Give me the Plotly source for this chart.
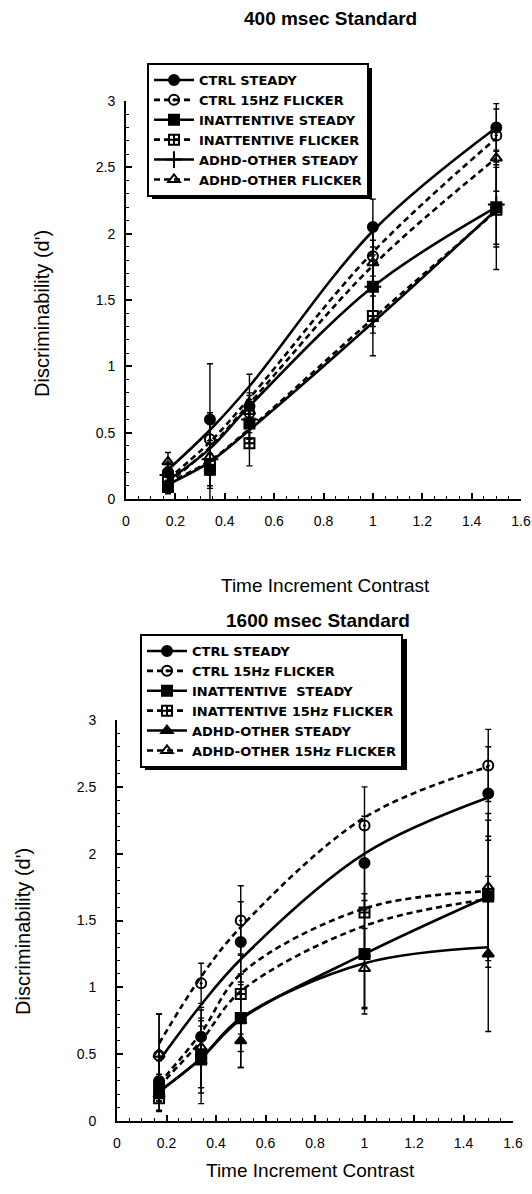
import plotly.graph_objects as go

# ---------------- data ----------------
contrast = [0.17, 0.34, 0.5, 1.0, 1.5]
xticks = [0, 0.2, 0.4, 0.6, 0.8, 1, 1.2, 1.4, 1.6]
yticks = [0, 0.5, 1, 1.5, 2, 2.5, 3]

# 400 msec standard: observed points, error bar half-lengths, fitted curves
top_names = ["CTRL STEADY", "CTRL 15HZ FLICKER", "INATTENTIVE STEADY",
             "INATTENTIVE FLICKER", "ADHD-OTHER STEADY", "ADHD-OTHER FLICKER"]
top_ctrl_steady = [0.20, 0.60, 0.70, 2.05, 2.80]
top_ctrl_flicker = [0.20, 0.45, 0.65, 1.83, 2.74]
top_inatt_steady = [0.09, 0.22, 0.57, 1.60, 2.20]
top_inatt_flicker = [0.17, 0.25, 0.42, 1.38, 2.18]
top_adhd_steady = [0.18, 0.30, 0.60, 1.60, 2.22]
top_adhd_flicker = [0.28, 0.32, 0.66, 1.78, 2.57]

top_ctrl_steady_err = [0.08, 0.42, 0.24, 0.21, 0.18]
top_ctrl_flicker_err = [0.06, 0.15, 0.15, 0.25, 0.20]
top_inatt_steady_err = [0.05, 0.12, 0.15, 0.30, 0.30]
top_inatt_flicker_err = [0.10, 0.17, 0.17, 0.30, 0.45]
top_adhd_steady_err = [0.06, 0.35, 0.15, 0.35, 0.30]
top_adhd_flicker_err = [0.07, 0.12, 0.12, 0.25, 0.25]

top_ctrl_steady_fit = [0.22, 0.52, 0.85, 2.02, 2.80]
top_ctrl_flicker_fit = [0.15, 0.43, 0.76, 1.86, 2.72]
top_inatt_steady_fit = [0.11, 0.28, 0.52, 1.33, 2.18]
top_inatt_flicker_fit = [0.12, 0.29, 0.53, 1.36, 2.17]
top_adhd_steady_fit = [0.14, 0.38, 0.70, 1.60, 2.20]
top_adhd_flicker_fit = [0.12, 0.39, 0.72, 1.76, 2.57]

# 1600 msec standard
bot_names = ["CTRL STEADY", "CTRL 15Hz FLICKER", "INATTENTIVE  STEADY",
             "INATTENTIVE 15Hz FLICKER", "ADHD-OTHER STEADY", "ADHD-OTHER 15Hz FLICKER"]
bot_ctrl_steady = [0.30, 0.63, 1.34, 1.93, 2.45]
bot_ctrl_flicker = [0.49, 1.03, 1.50, 2.21, 2.66]
bot_inatt_steady = [0.25, 0.50, 0.77, 1.25, 1.68]
bot_inatt_flicker = [0.17, 0.46, 0.95, 1.56, 1.70]
bot_adhd_steady = [0.20, 0.45, 0.60, 1.25, 1.25]
bot_adhd_flicker = [0.50, 0.55, 0.75, 1.14, 1.75]

bot_ctrl_steady_err = [0.15, 0.20, 0.30, 0.35, 0.35]
bot_ctrl_flicker_err = [0.31, 0.15, 0.26, 0.29, 0.27]
bot_inatt_steady_err = [0.10, 0.25, 0.25, 0.40, 0.45]
bot_inatt_flicker_err = [0.10, 0.25, 0.30, 0.35, 0.55]
bot_adhd_steady_err = [0.12, 0.32, 0.20, 0.45, 0.58]
bot_adhd_flicker_err = [0.30, 0.30, 0.35, 0.30, 0.55]

bot_ctrl_steady_fit = [0.45, 0.87, 1.21, 2.00, 2.42]
bot_ctrl_flicker_fit = [0.58, 1.08, 1.45, 2.27, 2.65]
bot_inatt_steady_fit = [0.22, 0.47, 0.76, 1.25, 1.68]
bot_inatt_flicker_fit = [0.28, 0.66, 1.10, 1.59, 1.72]
bot_adhd_steady_fit = [0.22, 0.47, 0.77, 1.18, 1.30]
bot_adhd_flicker_fit = [0.26, 0.60, 0.97, 1.46, 1.66]

# ---------------- styling ----------------
W, H = 532, 1194
FONT = "Liberation Sans"
LEG_FONT = "DejaVu Sans"
DASH = "6px,4px"


def px(p):
    return p / W


def py(p):
    return 1 - p / H


top_series = [
    (top_names[0], top_ctrl_steady, top_ctrl_steady_err, top_ctrl_steady_fit, "solid", "circle"),
    (top_names[1], top_ctrl_flicker, top_ctrl_flicker_err, top_ctrl_flicker_fit, DASH, "circle-open-dot"),
    (top_names[2], top_inatt_steady, top_inatt_steady_err, top_inatt_steady_fit, "solid", "square"),
    (top_names[3], top_inatt_flicker, top_inatt_flicker_err, top_inatt_flicker_fit, DASH, "square-cross-open"),
    (top_names[4], top_adhd_steady, top_adhd_steady_err, top_adhd_steady_fit, "solid", "cross-thin-open"),
    (top_names[5], top_adhd_flicker, top_adhd_flicker_err, top_adhd_flicker_fit, DASH, "triangle-up-open"),
]
bot_series = [
    (bot_names[0], bot_ctrl_steady, bot_ctrl_steady_err, bot_ctrl_steady_fit, "solid", "circle"),
    (bot_names[1], bot_ctrl_flicker, bot_ctrl_flicker_err, bot_ctrl_flicker_fit, DASH, "circle-open-dot"),
    (bot_names[2], bot_inatt_steady, bot_inatt_steady_err, bot_inatt_steady_fit, "solid", "square"),
    (bot_names[3], bot_inatt_flicker, bot_inatt_flicker_err, bot_inatt_flicker_fit, DASH, "square-cross-open"),
    (bot_names[4], bot_adhd_steady, bot_adhd_steady_err, bot_adhd_steady_fit, "solid", "triangle-up"),
    (bot_names[5], bot_adhd_flicker, bot_adhd_flicker_err, bot_adhd_flicker_fit, DASH, "triangle-up-open"),
]


def isolate(vals):
    out = []
    for v in vals:
        out += [v, None]
    return out


fig = go.Figure()


def add_panel(series, xa, ya, legend):
    for name, ys, err, fit, dash, sym in series:
        # smooth fitted curve
        fig.add_trace(go.Scatter(
            x=contrast, y=fit, mode="lines", line=dict(color="black", width=2.6, dash=dash, shape="spline"),
            xaxis=xa, yaxis=ya, showlegend=False, hoverinfo="skip"))
        # observed points with error bars (isolated points, legend shows line + marker)
        ms = 12 if sym.startswith("cross") else 10
        fig.add_trace(go.Scatter(
            x=isolate(contrast), y=isolate(ys), name=name, mode="lines+markers",
            connectgaps=False,
            line=dict(color="black", width=2.6, dash=dash),
            marker=dict(symbol=sym, size=ms, color="black", line=dict(color="black", width=2)),
            error_y=dict(type="data", array=isolate(err), color="black", thickness=1.4, width=3),
            xaxis=xa, yaxis=ya, legend=legend))


add_panel(top_series, "x", "y", "legend")
add_panel(bot_series, "x2", "y2", "legend2")

axis_common = dict(
    showline=True, linecolor="black", linewidth=2, mirror=False,
    ticks="inside", ticklen=6, tickwidth=1.5, tickcolor="black",
    showgrid=False, zeroline=False,
    tickfont=dict(family=FONT, size=14, color="black"),
)
xminor = dict(ticks="inside", ticklen=3, tickwidth=1, tickcolor="black", dtick=0.05)
yminor = dict(ticks="inside", ticklen=3, tickwidth=1, tickcolor="black", dtick=0.1)

leg_font = dict(family=LEG_FONT, size=13, color="black", weight="bold")

fig.update_layout(
    width=W, height=H,
    margin=dict(l=0, r=0, t=0, b=0, pad=0, autoexpand=False),
    paper_bgcolor="white", plot_bgcolor="white",
    xaxis=dict(domain=[px(126), px(521)], range=[0, 1.6], anchor="y", tickvals=xticks,
               minor=xminor, ticklabelstandoff=8, **axis_common),
    yaxis=dict(domain=[py(499), py(101)], range=[0, 3], anchor="x", tickvals=yticks,
               minor=yminor, ticklabelstandoff=6, **axis_common),
    xaxis2=dict(domain=[px(117), px(513)], range=[0, 1.6], anchor="y2", tickvals=xticks,
                minor=xminor, ticklabelstandoff=8, **axis_common),
    yaxis2=dict(domain=[py(1121), py(720)], range=[0, 3], anchor="x2", tickvals=yticks,
                minor=yminor, ticklabelstandoff=16, **axis_common),
    legend=dict(x=px(147), y=py(63), xanchor="left", yanchor="top",
                bgcolor="white", bordercolor="black", borderwidth=2,
                font=leg_font, itemwidth=40, tracegroupgap=0),
    legend2=dict(x=px(140), y=py(634), xanchor="left", yanchor="top",
                 bgcolor="white", bordercolor="black", borderwidth=2,
                 font=leg_font, itemwidth=40, tracegroupgap=0),
    showlegend=True,
)

# drop shadows behind the legend boxes
fig.add_shape(type="rect", xref="paper", yref="paper",
              x0=px(152), x1=px(372), y0=py(199), y1=py(68),
              fillcolor="black", line=dict(width=0), layer="above")
fig.add_shape(type="rect", xref="paper", yref="paper",
              x0=px(145), x1=px(407), y0=py(770), y1=py(639),
              fillcolor="black", line=dict(width=0), layer="above")

annots = [
    dict(text="<b>400 msec Standard</b>", x=330, y=19, size=19),
    dict(text="<b>1600 msec Standard</b>", x=318, y=620, size=19),
    dict(text="Time Increment Contrast", x=325, y=585, size=19),
    dict(text="Time Increment Contrast", x=310, y=1170, size=19),
]
for a in annots:
    fig.add_annotation(text=a["text"], x=px(a["x"]), y=py(a["y"]), xref="paper", yref="paper",
                       showarrow=False, xanchor="center", yanchor="middle",
                       font=dict(family=FONT, size=a["size"], color="black"))
for xx, yy in [(42, 314), (23, 932)]:
    fig.add_annotation(text="Discriminability (d')", x=px(xx), y=py(yy), xref="paper", yref="paper",
                       showarrow=False, xanchor="center", yanchor="middle", textangle=-90,
                       font=dict(family=FONT, size=20, color="black"))

# the page body normally has an 8px margin; remove it so the 532x1194 figure fills the window exactly
fig.write_html("out.html",
               config={"displayModeBar": False},
               post_script="document.body.style.margin='0px';document.body.style.overflow='hidden';")
